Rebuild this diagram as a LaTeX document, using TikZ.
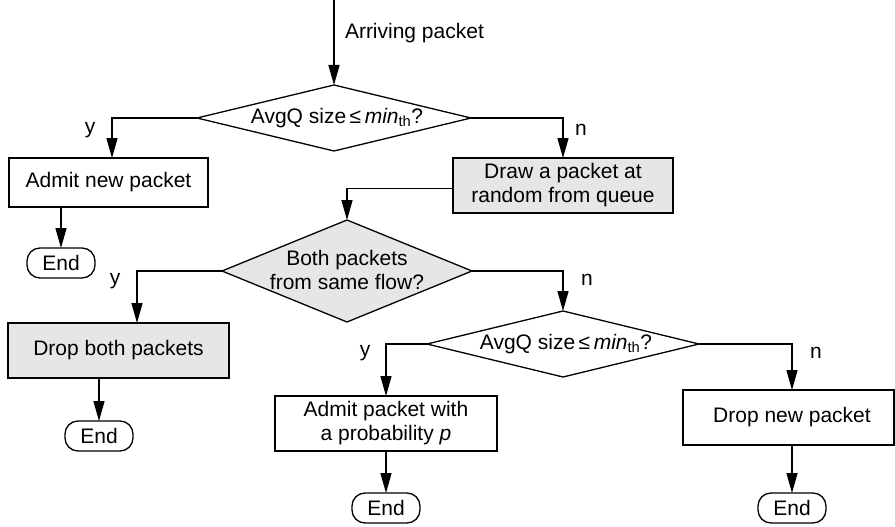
\documentclass[tikz,border=0pt]{standalone}
\usepackage{fontspec}
\setmainfont{Liberation Sans}
\usetikzlibrary{arrows.meta,shapes.geometric}
\definecolor{boxgray}{HTML}{E6E6E6}
\begin{document}
\begin{tikzpicture}[x=1pt,y=-1pt,
  every node/.style={font=\fontsize{21}{24}\selectfont, inner sep=0pt, outer sep=0pt},
  line/.style={line width=1.3pt},
  arr/.style={line width=1.3pt, -{Triangle[length=20pt,width=11pt]}},
  procbox/.style={draw, line width=1.3pt, rectangle, align=center},
  graybox/.style={procbox, fill=boxgray},
  decis/.style={draw, line width=1.3pt, diamond, inner sep=0pt},
  endbox/.style={draw, line width=1.3pt, rectangle, rounded corners=13pt, minimum width=68pt, minimum height=30pt},
  lbl/.style={font=\fontsize{21}{24}\selectfont}
]
\useasboundingbox (0,0) rectangle (895,527);

\coordinate (start) at (334,0);
\node[lbl, anchor=west] (arrlbl) at (345,33) {Arriving packet};

\node[decis, minimum width=274pt, minimum height=66pt] (d1) at (334,118) {};
\node (d1t) at (337,118) {AvgQ size\,≤\,\textit{min}\textsubscript{th}?};

\node[procbox, minimum width=199pt, minimum height=49pt] (b1) at (108.5,182.5) {Admit new packet};
\node[endbox] (e1) at (61,263) {End};

\node[graybox, minimum width=220pt, minimum height=55pt] (b2) at (563,185.5) {Draw a packet at\\random from queue};

\node[decis, fill=boxgray, minimum width=250pt, minimum height=102pt] (d2) at (347,271) {};
\node[align=center] (d2t) at (347,270) {Both packets\\from same flow?};

\node[graybox, minimum width=221pt, minimum height=55pt] (b3) at (118.5,350.5) {Drop both packets};
\node[endbox] (e2) at (99,436) {End};

\node[decis, minimum width=272pt, minimum height=66pt] (d3) at (563,344) {};
\node (d3t) at (566,344) {AvgQ size\,≤\,\textit{min}\textsubscript{th}?};

\node[procbox, minimum width=222pt, minimum height=55pt] (b4) at (386,423.5) {Admit packet with\\a probability \textit{p}};
\node[endbox] (e3) at (386,508) {End};

\node[procbox, minimum width=211pt, minimum height=55pt] (b5) at (788.5,417.5) {\hspace*{7pt}Drop new packet};
\node[endbox] (e4) at (792,508) {End};

% labels
\node[lbl] (y1) at (90,130) {y};
\node[lbl] (n1) at (581,130) {n};
\node[lbl] (y2) at (115,281) {y};
\node[lbl] (n2) at (587,280) {n};
\node[lbl] (y3) at (365,353) {y};
\node[lbl] (n3) at (816,353) {n};

% connectors
\draw[arr] (start) -- (d1.north);
\draw[arr] (d1.west) -| ([xshift=3.5pt]b1.north);
\draw[arr] (b1.south -| e1.north) -- (e1.north);
\draw[arr] (d1.east) -| (b2.north);
\draw[arr] ([yshift=-3pt]b2.west) -| (d2.north);
\draw[arr] (d2.west) -| ([xshift=18.5pt]b3.north);
\draw[arr] (b3.south -| e2.north) -- (e2.north);
\draw[arr] (d2.east) -| (d3.north);
\draw[arr] (d3.west) -| (b4.north);
\draw[arr] (b4.south) -- (e3.north);
\draw[arr] (d3.east) -| ([xshift=3.5pt]b5.north);
\draw[arr] (b5.south -| e4.north) -- (e4.north);
\end{tikzpicture}
\end{document}
